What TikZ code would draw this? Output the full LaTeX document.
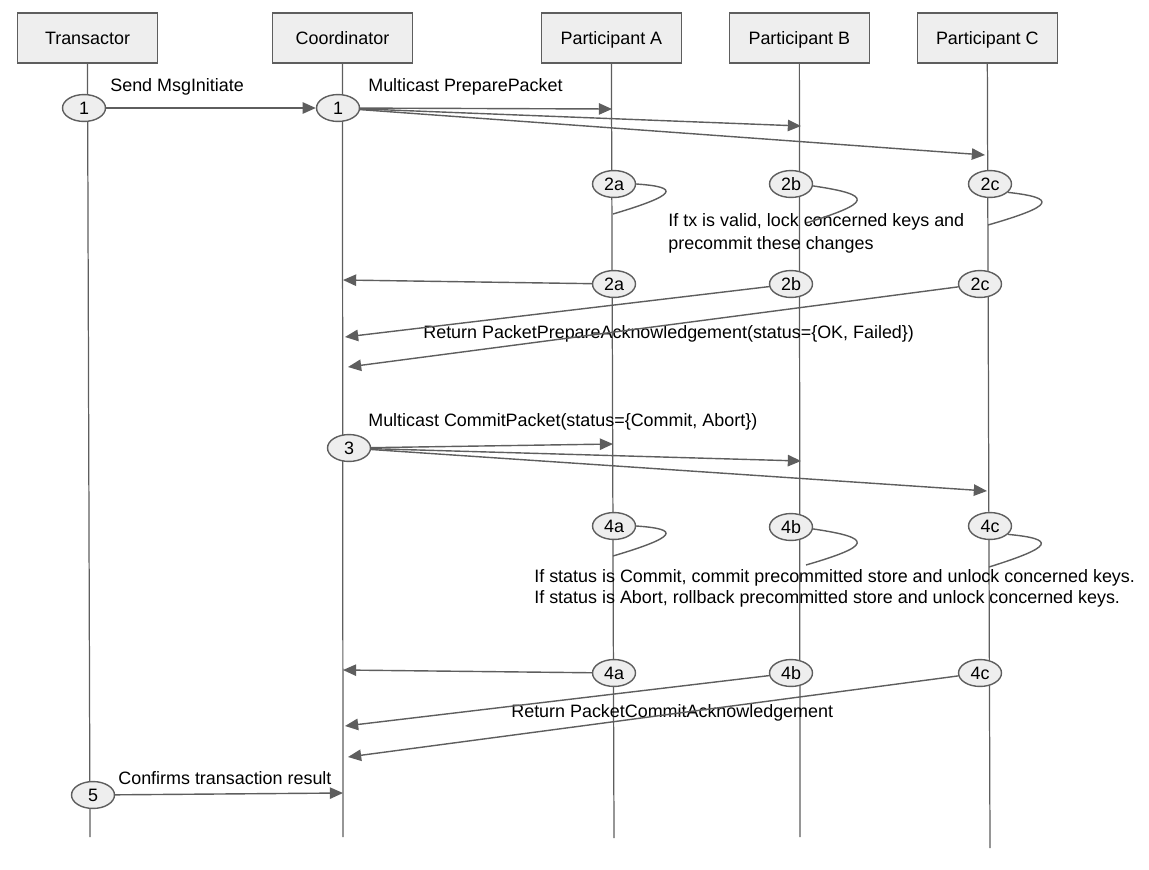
\documentclass[tikz,border=0pt]{standalone}
\usepackage{fontspec}
\setmainfont{Liberation Sans}
\usetikzlibrary{positioning}
\usetikzlibrary{arrows.meta}
\usetikzlibrary{shapes,shapes.geometric}
\definecolor{linegray}{HTML}{5E5E5E}
\definecolor{boxgray}{HTML}{EEEEEE}
\tikzstyle{actor} = [draw=linegray, fill=boxgray, rectangle, line width=0.8pt, outer sep=0pt, minimum width=2.8cm, minimum height=1cm, text height=1.75ex, text depth=0.45ex]
\tikzstyle{stepnode} = [draw=linegray, fill=boxgray, ellipse, line width=0.8pt, minimum width=0.86cm, minimum height=0.46cm, inner sep=0pt, text height=1.75ex, text depth=0.3ex]
\tikzstyle{lifeline} = [draw=linegray, line width=0.7pt]
\tikzstyle{msg} = [draw=linegray, line width=0.8pt, -{Triangle[length=7.5pt,width=6.5pt]}]
\tikzstyle{selfloop} = [draw=linegray, line width=0.8pt]
\tikzstyle{lbl} = [anchor=west, inner sep=0pt]

\begin{document}
\begin{tikzpicture}[x=0.02cm, y=-0.02cm, font=\fontsize{10.2pt}{12pt}\selectfont]
    \useasboundingbox (0,0) rectangle (1149,869);

	\node [actor] (trans) at (87.5,38) {Transactor};
	\node [actor, right=2.3cm of trans] (coord) {Coordinator};
	\node [actor, right=2.58cm of coord] (partA) {Participant A};
	\node [actor, right=0.96cm of partA] (partB) {Participant B};
	\node [actor, right=0.96cm of partB] (partC) {Participant C};

	\coordinate (transEnd) at (90,837);
	\coordinate (coordEnd) at (343,837);
	\coordinate (partAEnd) at (614,838);
	\coordinate (partBEnd) at (800,837);
	\coordinate (partCEnd) at (990,848);

    \draw [lifeline] (trans.south) -- (transEnd);
    \draw [lifeline] (coord.south) -- (coordEnd);
    \draw [lifeline] (partA.south) -- (partAEnd);
    \draw [lifeline] (partB.south) -- (partBEnd);
    \draw [lifeline] (partC.south) -- (partCEnd);

	\node [stepnode] (t1) at (84,108) {1};
	\node [stepnode] (c1) at (338,108) {1};
	\node [stepnode] (a2) at (614,184) {2a};
	\node [stepnode] (b2) at (791,184) {2b};
	\node [stepnode] (c2) at (990,184) {2c};
	\node [stepnode] (a2r) at (614,284) {2a};
	\node [stepnode] (b2r) at (791,284) {2b};
	\node [stepnode] (c2r) at (980,284) {2c};
	\node [stepnode] (c3) at (349,448) {3};
	\node [stepnode] (a4) at (614,526) {4a};
	\node [stepnode] (b4) at (791,527) {4b};
	\node [stepnode] (c4) at (990,526) {4c};
	\node [stepnode] (a4r) at (614,673) {4a};
	\node [stepnode] (b4r) at (791,673) {4b};
	\node [stepnode] (c4r) at (980,673) {4c};
	\node [stepnode] (t5) at (93,795) {5};

	\coordinate (pA1) at (612,109);
	\coordinate (pB1) at (801,126);
	\coordinate (pC1) at (985,155);
	\coordinate (a2x) at (613,214);
	\coordinate (b2x) at (806,223);
	\coordinate (c2x) at (988,225);
	\coordinate (cr2a) at (343,280);
	\coordinate (cr2b) at (345,337);
	\coordinate (cr2c) at (348,367);
	\coordinate (pA3) at (613,444);
	\coordinate (pB3) at (801,461);
	\coordinate (pC3) at (987,491);
	\coordinate (a4x) at (613,556);
	\coordinate (b4x) at (806,565);
	\coordinate (c4x) at (989,567);
	\coordinate (cr4a) at (343,670);
	\coordinate (cr4b) at (345,726);
	\coordinate (cr4c) at (348,757);
	\coordinate (c5) at (343,793);

	\node [lbl] (sendLbl) at (110,87) {Send MsgInitiate};
	\node [lbl] (prepLbl) at (368,87) {Multicast PreparePacket};
	\node [lbl, align=left, font=\fontsize{10.2pt}{13pt}\selectfont] (validLbl) at (668,233.5) {If tx is valid, lock concerned keys and\\precommit these changes};
	\node [lbl] (ackLbl) at (423,334) {Return PacketPrepareAcknowledgement(status=\{OK, Failed\})};
	\node [lbl] (commitLbl) at (368,422) {Multicast CommitPacket(status=\{Commit, Abort\})};
	\node [lbl, align=left, font=\fontsize{10.2pt}{11.9pt}\selectfont] (statusLbl) at (534,588.5) {If status is Commit, commit precommitted store and unlock concerned keys.\\If status is Abort, rollback precommitted store and unlock concerned keys.};
	\node [lbl] (cackLbl) at (511,713) {Return PacketCommitAcknowledgement};
	\node [lbl] (confLbl) at (118,778) {Confirms transaction result};

    \draw [msg] (t1) -- (c1);
    \draw [msg] (c1) -- (pA1);
    \draw [msg] (c1) -- (pB1);
    \draw [msg] (c1) -- (pC1);

    \draw [selfloop] (a2.east) .. controls (681,187) and (677,195) .. (a2x);
    \draw [selfloop] (b2.-5) .. controls (875,195) and (871,203) .. (b2x);
    \draw [selfloop] (c2.-25) .. controls (1058,198) and (1054,206) .. (c2x);

    \draw [msg] (a2r) -- (cr2a);
    \draw [msg] (b2r) -- (cr2b);
    \draw [msg] (c2r) -- (cr2c);

    \draw [msg] (c3) -- (pA3);
    \draw [msg] (c3) -- (pB3);
    \draw [msg] (c3) -- (pC3);

    \draw [selfloop] (a4.east) .. controls (681,529) and (677,537) .. (a4x);
    \draw [selfloop] (b4.-5) .. controls (875,538) and (871,546) .. (b4x);
    \draw [selfloop] (c4.-25) .. controls (1057,539) and (1053,547) .. (c4x);

    \draw [msg] (a4r) -- (cr4a);
    \draw [msg] (b4r) -- (cr4b);
    \draw [msg] (c4r) -- (cr4c);

    \draw [msg] (t5) -- (c5);

\end{tikzpicture}
\end{document}
